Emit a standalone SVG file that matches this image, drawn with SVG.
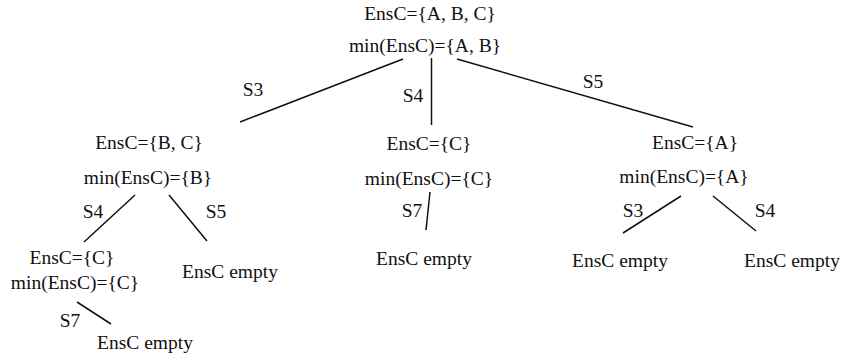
<svg xmlns="http://www.w3.org/2000/svg" width="845" height="363" viewBox="0 0 845 363">
<style>
text{font-family:"Liberation Serif","Times New Roman",serif;font-size:19.5px;fill:#111;text-anchor:middle}
line{stroke:#111;stroke-width:1.5}
</style>
<rect width="845" height="363" fill="#fff"/>
<g id="connectors">
<line x1="403" y1="59" x2="240" y2="122"/>
<line x1="431.5" y1="58" x2="431.5" y2="125"/>
<line x1="457" y1="59" x2="693" y2="127"/>
<line x1="135" y1="195" x2="84" y2="242"/>
<line x1="169" y1="195" x2="207" y2="241"/>
<line x1="77" y1="302" x2="111" y2="324"/>
<line x1="430" y1="192" x2="426" y2="230"/>
<line x1="681" y1="196" x2="623" y2="233"/>
<line x1="713" y1="196" x2="756" y2="231"/>
<text x="253" y="96">S3</text>
<text x="413" y="102">S4</text>
<text x="593" y="88">S5</text>
<text x="93" y="218">S4</text>
<text x="216" y="218">S5</text>
<text x="70" y="327">S7</text>
<text x="412" y="217">S7</text>
<text x="633" y="217">S3</text>
<text x="765" y="217">S4</text>
</g>
<g id="root"><text x="430" y="20">EnsC={A, B, C}</text><text x="425" y="52">min(EnsC)={A, B}</text></g>
<g id="nBC"><text x="149" y="149">EnsC={B, C}</text><text x="148" y="184">min(EnsC)={B}</text></g>
<g id="nC1"><text x="72" y="264">EnsC={C}</text><text x="75" y="289">min(EnsC)={C}</text></g>
<g id="e1"><text x="145" y="349">EnsC empty</text></g>
<g id="e2"><text x="230" y="278">EnsC empty</text></g>
<g id="nC2"><text x="429" y="150">EnsC={C}</text><text x="429" y="185">min(EnsC)={C}</text></g>
<g id="e3"><text x="424" y="265">EnsC empty</text></g>
<g id="nA"><text x="695" y="149">EnsC={A}</text><text x="684" y="183">min(EnsC)={A}</text></g>
<g id="e4"><text x="620" y="267">EnsC empty</text></g>
<g id="e5"><text x="792" y="267">EnsC empty</text></g>
</svg>
